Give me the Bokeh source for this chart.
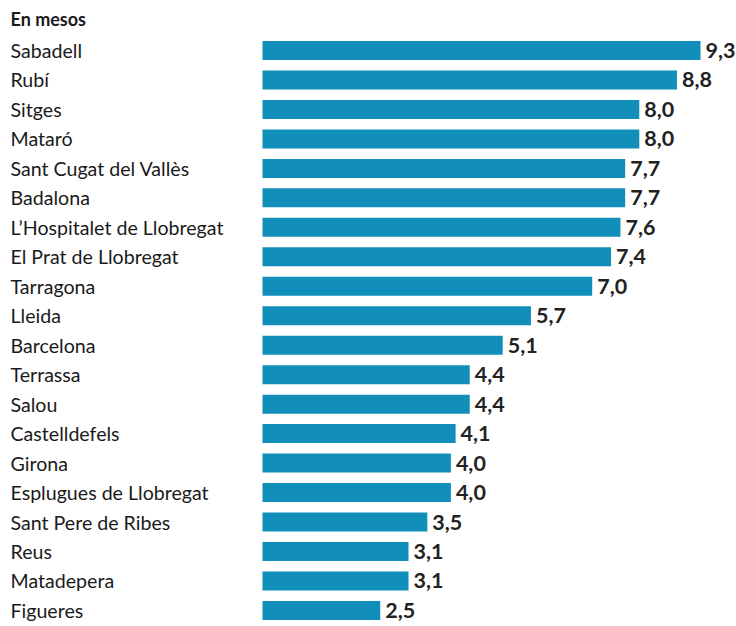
from bokeh.plotting import figure
from bokeh.models import Range1d, ColumnDataSource
from bokeh.core.properties import value
from bokeh.embed import file_html
from bokeh.resources import INLINE

title = "En mesos"
cities = ["Sabadell", "Rubí", "Sitges", "Mataró", "Sant Cugat del Vallès", "Badalona",
          "L’Hospitalet de Llobregat", "El Prat de Llobregat", "Tarragona", "Lleida",
          "Barcelona", "Terrassa", "Salou", "Castelldefels", "Girona",
          "Esplugues de Llobregat", "Sant Pere de Ribes", "Reus", "Matadepera", "Figueres"]
months = [9.3, 8.8, 8.0, 8.0, 7.7, 7.7, 7.6, 7.4, 7.0, 5.7,
          5.1, 4.4, 4.4, 4.1, 4.0, 4.0, 3.5, 3.1, 3.1, 2.5]

W, H = 736, 626
x0_px, scale = 262.0, 47.1
y0_px, step = 50.0, 29.47

x_start = -x0_px / scale
x_end = (W - x0_px) / scale
y_top = -y0_px / step
y_bottom = (H - y0_px) / step

idx = list(range(len(cities)))
labels = [f"{v:.1f}".replace(".", ",") for v in months]
src = ColumnDataSource(dict(y=idx, v=months, city=cities, lab=labels,
                            lx=[x_start + 10 / scale] * len(idx)))

p = figure(width=W, height=H, output_backend="svg", toolbar_location=None,
           x_range=Range1d(x_start, x_end), y_range=Range1d(y_bottom, y_top),
           min_border=0, outline_line_color=None)
p.axis.visible = False
p.grid.visible = False
p.background_fill_color = "white"

p.hbar(y="y", left=0, right="v", height=19 / step, source=src,
       fill_color="#118fba", line_color=None)
p.text(x="lx", y="y", text="city", source=src, text_font=value("Lato"),
       text_font_size="19.6px", text_color="#1a1a1a", text_baseline="middle",
       text_align="left")
p.text(x="v", y="y", text="lab", source=src, x_offset=5, text_font=value("Lato"),
       text_font_size="21.5px", text_font_style="bold", text_color="#222222",
       text_baseline="middle", text_align="left")
p.text(x=[x_start + 10 / scale], y=[(18 - y0_px) / step], text=[title],
       text_font=value("Lato"), text_font_size="18px", text_font_style="bold",
       text_color="#1a1a1a", text_baseline="middle", text_align="left")

open("out.html", "w").write(file_html(p, INLINE))
